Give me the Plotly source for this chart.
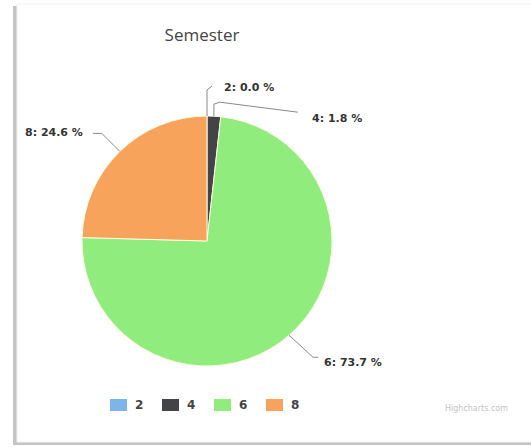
import math
import plotly.graph_objects as go

# ---- data ----
semesters = ["2", "4", "6", "8"]
counts = [0, 1, 42, 14]
colors = ["#7cb5ec", "#434348", "#90ed7d", "#f7a35c"]
title_text = "Semester"

W, H = 531, 447
CX, CY, R = 207, 241, 125  # pie geometry in pixels


def px(x):
    return x / W


def py(y):
    return 1 - y / H


total = sum(counts)
pcts = [c / total * 100 for c in counts]

fig = go.Figure()

# frame (screenshot border with shadow)
fig.add_shape(type="rect", xref="paper", yref="paper", layer="below",
              x0=px(13), y0=py(445), x1=px(545), y1=py(6),
              fillcolor="#c4c4c4", line=dict(width=0))
fig.add_shape(type="rect", xref="paper", yref="paper", layer="below",
              x0=px(17), y0=py(442), x1=px(545), y1=py(4),
              fillcolor="#ffffff", line=dict(color="#f2f2f2", width=1))

fig.add_trace(go.Pie(
    labels=semesters, values=counts, sort=False, direction="clockwise",
    rotation=0, textinfo="none", hoverinfo="label+percent",
    marker=dict(colors=colors, line=dict(color="#fffbe0", width=1)),
    domain=dict(x=[px(CX - R), px(CX + R)], y=[py(CY + R), py(CY - R)]),
    showlegend=False,
))

# label layout: (label x, label y, anchor, elbow offsets)
label_pos = {
    "2": dict(x=222, y=88, anchor="left", path=[(0, -26), (5, -30)]),
    "4": dict(x=310, y=118, anchor="left", path=[(0, -12), (6, -14), (84, -4)]),
    "6": dict(x=322, y=362, anchor="left", path=[(24, 22), (29, 22)]),
    "8": dict(x=85, y=132, anchor="right", path=[(-18, -18), (-27, -18)]),
}

cum = 0.0
for lab, c, p in zip(semesters, counts, pcts):
    mid = (cum + c / 2) / total * 2 * math.pi
    cum += c
    ex = CX + R * math.sin(mid)
    ey = CY - R * math.cos(mid)
    lp = label_pos[lab]
    pts = [(ex, ey)] + [(ex + dx, ey + dy) for dx, dy in lp["path"]]
    d = "M {} {}".format(px(pts[0][0]), py(pts[0][1]))
    for (x, y) in pts[1:]:
        d += " L {} {}".format(px(x), py(y))
    fig.add_shape(type="path", xref="paper", yref="paper", path=d,
                  line=dict(color="#8a8a8a", width=1))
    fig.add_annotation(xref="paper", yref="paper", x=px(lp["x"]), y=py(lp["y"]),
                       xanchor=lp["anchor"], yanchor="middle", showarrow=False,
                       text="<b>{}: {:.1f} %</b>".format(lab, p),
                       font=dict(family="DejaVu Sans", size=11, color="#333333"))

# custom legend (wide rectangular keys like the original)
LEG_X0, LEG_DX, LEG_Y = 110, 52, 405
for i, (lab, col) in enumerate(zip(semesters, colors)):
    x0 = LEG_X0 + i * LEG_DX
    fig.add_shape(type="rect", xref="paper", yref="paper",
                  x0=px(x0), x1=px(x0 + 17), y0=py(LEG_Y + 6), y1=py(LEG_Y - 6),
                  fillcolor=col, line=dict(width=0))
    fig.add_annotation(xref="paper", yref="paper", x=px(x0 + 23), y=py(LEG_Y),
                       xanchor="left", yanchor="middle", showarrow=False,
                       text="<b>{}</b>".format(lab),
                       font=dict(family="DejaVu Sans", size=12, color="#444444"))

fig.add_annotation(xref="paper", yref="paper", x=px(510), y=py(408),
                   xanchor="right", yanchor="middle", showarrow=False,
                   text="Highcharts.com",
                   font=dict(family="DejaVu Sans", size=8, color="#c4c4c4"))

fig.update_layout(
    width=W, height=H,
    margin=dict(l=0, r=0, t=0, b=0),
    paper_bgcolor="white", plot_bgcolor="white",
    showlegend=False,
    title=dict(text=title_text, x=px(202), xanchor="center", y=py(35), yanchor="middle",
               font=dict(family="Open Sans", size=17, color="#444444")),
)

fig.write_html("out.html")
